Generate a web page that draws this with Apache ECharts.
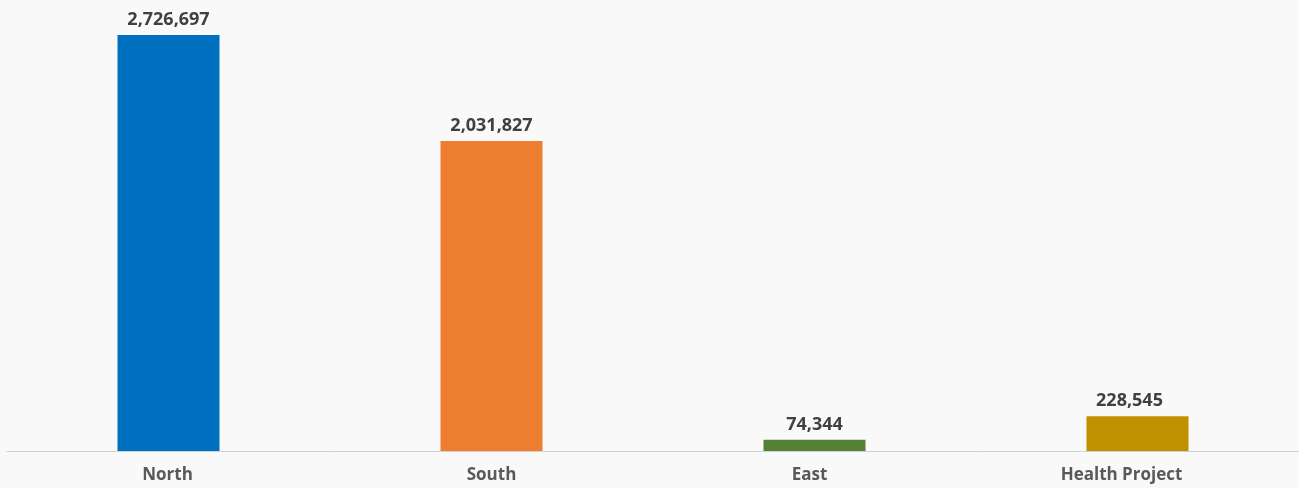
<!DOCTYPE html>
<html>
<head>
<meta charset="utf-8">
<script src="https://cdn.jsdelivr.net/npm/echarts@6/dist/echarts.min.js"></script>
<style>
html,body{margin:0;padding:0;background:#faf9f9;}
#c{width:1299px;height:488px;}
</style>
</head>
<body>
<div id="c"></div>
<script>
const categories = ['North', 'South', 'East', 'Health Project'];
const values = [2726697, 2031827, 74344, 228545];
const colors = ['#0070C0', '#ED7D31', '#548235', '#BF9000'];

// small per-item label nudges seen in the reference
const axisLabelShift = [2, 0, 10, 32];
const valueLabelShift = [0, 0, 0, -8];

const chart = echarts.init(document.getElementById('c'), null, {renderer: 'canvas'});
chart.setOption({
  backgroundColor: '#faf9f9',
  animation: false,
  grid: {left: 7, width: 1296, top: 35, bottom: 37, containLabel: false},
  xAxis: {
    type: 'category',
    data: categories.map((c, i) => ({value: c, textStyle: {padding: [0, axisLabelShift[i], 0, 0]}})),
    axisLine: {lineStyle: {color: '#d0d0d0', width: 1}},
    axisTick: {show: false},
    axisLabel: {color: '#595959', fontFamily: 'Open Sans', fontWeight: 'bold', fontSize: 17, margin: 16}
  },
  yAxis: {
    type: 'value',
    min: 0,
    max: 'dataMax',
    show: false,
    splitLine: {show: false}
  },
  series: [{
    type: 'bar',
    barWidth: 102,
    data: values.map((v, i) => ({value: v, itemStyle: {color: colors[i]}, label: {offset: [valueLabelShift[i], 0]}})),
    label: {
      show: true,
      position: 'top',
      distance: 6,
      color: '#404040',
      fontFamily: 'Open Sans',
      fontWeight: 'bold',
      fontSize: 18,
      formatter: p => p.value.toLocaleString('en-US')
    }
  }]
});
</script>
</body>
</html>
